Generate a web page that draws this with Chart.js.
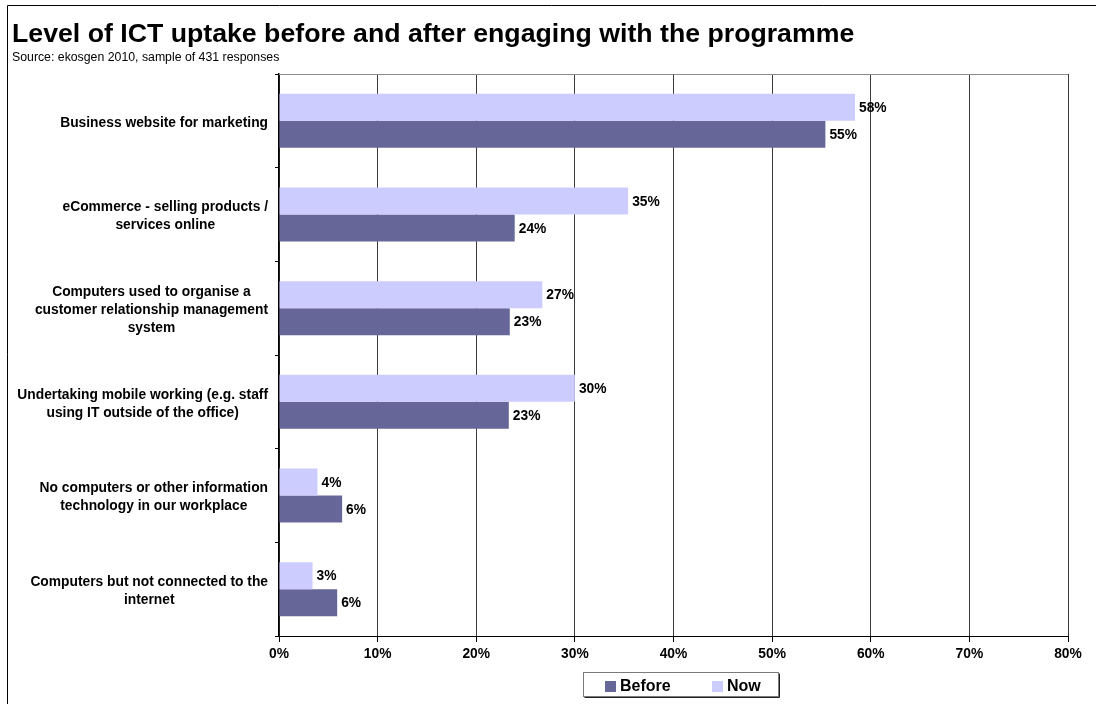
<!DOCTYPE html>
<html>
<head>
<meta charset="utf-8">
<title>ICT uptake</title>
<script src="https://cdn.jsdelivr.net/npm/chart.js@4"></script>
<style>
  html, body { margin: 0; padding: 0; background: #fff; }
  canvas { display: block; }
</style>
</head>
<body>
<canvas id="ictChart" width="1096" height="704"></canvas>
<script>
// Categorias (cada linea de la etiqueta por separado)
var categories = [
  ["Business website for marketing"],
  ["eCommerce - selling products /", "services online"],
  ["Computers used to organise a", "customer relationship management", "system"],
  ["Undertaking mobile working (e.g. staff", "using IT outside of the office)"],
  ["No computers or other information", "technology in our workplace"],
  ["Computers but not connected to the", "internet"]
];
var nowValues = [58.4, 35.4, 26.7, 30.0, 3.9, 3.4];
var beforeValues = [55.4, 23.9, 23.4, 23.3, 6.4, 5.9];
var tickLabels = ["0%", "10%", "20%", "30%", "40%", "50%", "60%", "70%", "80%"];
var seriesNames = ["Before", "Now"];

var colorBefore = "#666699";
var colorNow = "#CCCCFF";
var fontFamily = "Arial, 'Liberation Sans', sans-serif";

// Marco, titulo y subtitulo
const framePlugin = {
  id: "frame",
  beforeDraw(chart) {
    const ctx = chart.ctx;
    ctx.save();
    ctx.fillStyle = "#fff";
    ctx.fillRect(0, 0, chart.width, chart.height);
    ctx.strokeStyle = "#000";
    ctx.lineWidth = 1;
    ctx.beginPath();
    ctx.moveTo(7.5, chart.height);
    ctx.lineTo(7.5, 5.5);
    ctx.lineTo(chart.width, 5.5);
    ctx.stroke();

    ctx.fillStyle = "#000";
    ctx.textBaseline = "alphabetic";
    ctx.textAlign = "left";
    ctx.font = "bold 26.7px " + fontFamily;
    ctx.fillText("Level of ICT uptake before and after engaging with the programme", 12, 42);
    ctx.font = "12.3px " + fontFamily;
    ctx.fillText("Source: ekosgen 2010, sample of 431 responses", 12, 61);
    ctx.restore();
  },
  beforeDatasetsDraw(chart) {
    // linea superior del area del grafico
    const a = chart.chartArea;
    const ctx = chart.ctx;
    ctx.save();
    ctx.strokeStyle = "#8c8c8c";
    ctx.lineWidth = 1;
    ctx.beginPath();
    ctx.moveTo(a.left, Math.round(a.top) + 0.5);
    ctx.lineTo(a.right, Math.round(a.top) + 0.5);
    ctx.stroke();
    ctx.restore();
  }
};

// Etiquetas de categorias centradas entre si y alineadas al eje
const categoryLabels = {
  id: "categoryLabels",
  afterDraw(chart) {
    const ctx = chart.ctx;
    const yScale = chart.scales.y;
    const right = chart.chartArea.left - 11;
    const lineH = 18;
    ctx.save();
    ctx.font = "bold 13.8px " + fontFamily;
    ctx.fillStyle = "#000";
    ctx.textAlign = "center";
    ctx.textBaseline = "middle";
    for (var i = 0; i < categories.length; i++) {
      const lines = categories[i];
      var maxW = 0;
      lines.forEach((l) => { maxW = Math.max(maxW, ctx.measureText(l).width); });
      const cx = right - maxW / 2;
      const cy = yScale.getPixelForValue(i) + 2;
      const startY = cy - ((lines.length - 1) * lineH) / 2;
      lines.forEach((l, k) => ctx.fillText(l, cx, startY + k * lineH));
    }
    ctx.restore();
  }
};

// Valor al final de cada barra
const valueLabels = {
  id: "valueLabels",
  afterDatasetsDraw(chart) {
    const ctx = chart.ctx;
    ctx.save();
    ctx.font = "bold 13.8px " + fontFamily;
    ctx.fillStyle = "#000";
    ctx.textAlign = "left";
    ctx.textBaseline = "middle";
    chart.data.datasets.forEach((ds, d) => {
      chart.getDatasetMeta(d).data.forEach((bar, i) => {
        ctx.fillText(Math.round(ds.data[i]) + "%", bar.x + 4, bar.y + 1);
      });
    });
    ctx.restore();
  }
};

// Leyenda con recuadro debajo del eje
const boxLegend = {
  id: "boxLegend",
  afterDraw(chart) {
    const ctx = chart.ctx;
    const a = chart.chartArea;
    const w = 195, h = 24;
    const x = Math.round((a.left + a.right) / 2 + 7 - w / 2) + 0.5;
    const y = 672.5;
    ctx.save();
    ctx.fillStyle = "#fff";
    ctx.fillRect(x, y, w, h);
    ctx.strokeStyle = "#7a7a7a";
    ctx.lineWidth = 1;
    ctx.strokeRect(x, y, w, h);
    ctx.strokeStyle = "#222";
    ctx.beginPath();
    ctx.moveTo(x + w + 1, y + 1);
    ctx.lineTo(x + w + 1, y + h + 1);
    ctx.lineTo(x + 1, y + h + 1);
    ctx.stroke();

    const colors = [colorBefore, colorNow];
    const offsets = [21, 128];
    ctx.font = "bold 16px " + fontFamily;
    ctx.textAlign = "left";
    ctx.textBaseline = "middle";
    for (var i = 0; i < seriesNames.length; i++) {
      const bx = Math.round(x + offsets[i]);
      ctx.fillStyle = colors[i];
      ctx.fillRect(bx, y + 8.5, 11, 11);
      ctx.fillStyle = "#000";
      ctx.fillText(seriesNames[i], bx + 15, y + 14);
    }
    ctx.restore();
  }
};

new Chart(document.getElementById("ictChart"), {
  type: "bar",
  data: {
    labels: categories.map((c) => c.join(" ")),
    datasets: [
      {
        label: seriesNames[1],
        data: nowValues,
        backgroundColor: colorNow,
        borderWidth: 0,
        categoryPercentage: 0.576,
        barPercentage: 1,
      },
      {
        label: seriesNames[0],
        data: beforeValues,
        backgroundColor: colorBefore,
        borderWidth: 0,
        categoryPercentage: 0.576,
        barPercentage: 1,
      },
    ],
  },
  options: {
    indexAxis: "y",
    responsive: false,
    maintainAspectRatio: false,
    animation: false,
    layout: {
      padding: { top: 74, right: 28, bottom: 38, left: 0 },
    },
    plugins: {
      legend: { display: false },
      tooltip: { enabled: false },
      title: { display: false },
    },
    scales: {
      x: {
        type: "linear",
        position: "bottom",
        min: 0,
        max: 80,
        afterFit: (scale) => { scale.height = 30; },
        ticks: {
          stepSize: 10,
          color: "#000",
          padding: 4,
          font: { family: fontFamily, size: 13.8, weight: "bold" },
          callback: (v, i) => tickLabels[i],
        },
        grid: {
          color: "#3a3a3a",
          lineWidth: 1,
          drawTicks: true,
          tickLength: 6,
          tickColor: "#000",
        },
        border: { color: "#000", width: 1 },
      },
      y: {
        type: "category",
        afterFit: (scale) => { scale.width = 279; },
        ticks: { display: false },
        grid: {
          offset: true,
          drawOnChartArea: false,
          drawTicks: true,
          tickLength: 4,
          tickColor: "#000",
        },
        border: { color: "#000", width: 1.5 },
      },
    },
  },
  plugins: [framePlugin, categoryLabels, valueLabels, boxLegend],
});
</script>
</body>
</html>
